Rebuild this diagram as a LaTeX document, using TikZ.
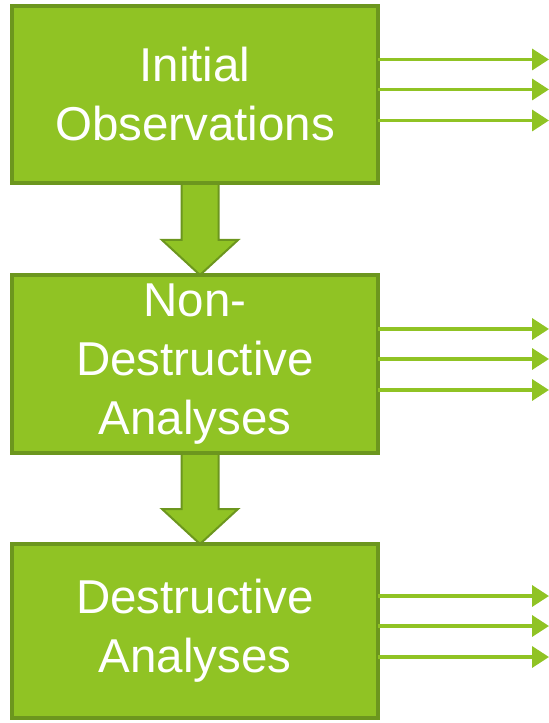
\documentclass[tikz,border=0pt]{standalone}
\usepackage{fontspec}
\setmainfont{Liberation Sans}
\usetikzlibrary{arrows.meta, positioning, calc, backgrounds}
\definecolor{leafgreen}{RGB}{144,195,36}
\definecolor{leafdark}{RGB}{108,150,30}

% block arrow from the bottom of one stage to the top of the next
\newcommand{\fatarrow}[2]{%
  \draw[fat arrow] ($(#1.south)+(-13.5,0)$) -- ($(#2.north)+(-13.5,35)$)
    -- ($(#2.north)+(-33,35)$) -- ($(#2.north)+(5,0)$)
    -- ($(#2.north)+(43,35)$) -- ($(#2.north)+(23.5,35)$)
    -- ($(#1.south)+(23.5,0)$) -- cycle;}

\begin{document}
\begin{tikzpicture}[x=1bp, y=1bp,
  stage/.style={draw=leafdark, line width=4bp, fill=leafgreen, text=white,
    minimum width=366bp, inner sep=0pt, outer sep=0pt, align=center,
    font=\fontsize{47.5bp}{59bp}\selectfont},
  fat arrow/.style={draw=leafdark, line width=2bp, fill=leafgreen, line join=miter},
  out arrow/.style={leafgreen, line width=3.5bp, -{Triangle[length=17bp, width=21bp]}}]
\useasboundingbox (0,0) rectangle (549,723);

% Stages
\node[stage, minimum height=177bp] (obs) at (195,628.5) {Initial\\Observations};
\node[stage, minimum height=178bp, below=92bp of obs] (nondest) {Non-\\Destructive\\Analyses};
\node[stage, minimum height=174bp, below=91bp of nondest] (dest) {Destructive\\Analyses};

% Flow between stages
\begin{scope}[on background layer]
\fatarrow{obs}{nondest}
\fatarrow{nondest}{dest}
\end{scope}

% Outputs of each stage
\foreach \s in {obs,nondest,dest}
  \foreach \dy [count=\i] in {35,5,-26}
    \draw[out arrow] ([yshift=\dy bp]\s.east) -- ++(171,0) coordinate (\s-out\i);
\end{tikzpicture}
\end{document}
